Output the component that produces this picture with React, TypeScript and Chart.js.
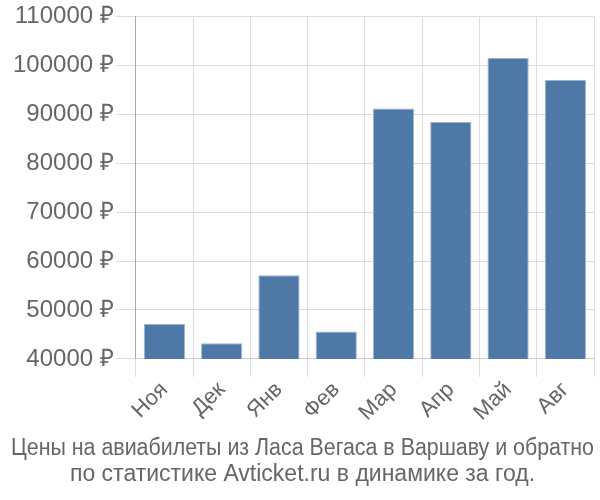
import React, { useEffect, useRef } from "react";
import { Chart, registerables } from "chart.js";

Chart.register(...registerables);

const categories = ["Ноя", "Дек", "Янв", "Фев", "Мар", "Апр", "Май", "Авг"];
const prices = [47200, 43200, 57100, 45600, 91200, 88400, 101500, 97000];
const yMin = 40000;
const yMax = 110000;
const yStep = 10000;
const titleLines = [
  "Цены на авиабилеты из Ласа Вегаса в Варшаву и обратно",
  "по статистике Avticket.ru в динамике за год.",
];

const FONT = "'Liberation Sans', Arial, sans-serif";

export default function App() {
  const ref = useRef<HTMLCanvasElement | null>(null);
  useEffect(() => {
    document.body.style.margin = "0";
    if (!ref.current) return;
    const chart = new Chart(ref.current, {
      type: "bar",
      data: {
        labels: categories,
        datasets: [
          {
            data: prices,
            backgroundColor: "#4e79a7",
            borderColor: "#9fb4cf",
            borderWidth: { top: 1, left: 1, right: 1, bottom: 0 },
          },
        ],
      },
      options: {
        animation: false,
        responsive: false,
        maintainAspectRatio: false,
        layout: { padding: { left: 11, right: 6, top: 4, bottom: 0 } },
        plugins: {
          legend: { display: false },
          tooltip: { enabled: false },
          title: {
            display: true,
            position: "bottom",
            text: titleLines,
            color: "#666",
            font: { family: FONT, size: 23, weight: "normal", lineHeight: 1.13 },
            padding: { top: 10, bottom: 12 },
          },
        },
        scales: {
          x: {
            grid: { color: "#dddddd", tickLength: 18, offset: true },
            border: { color: "#cccccc" },
            ticks: {
              color: "#666",
              font: { family: FONT, size: 22 },
              maxRotation: 45,
              minRotation: 45,
              padding: 0,
            },
          },
          y: {
            min: yMin,
            max: yMax,
            grid: { color: "#dddddd", tickLength: 20 },
            border: { color: "#aaaaaa" },
            ticks: {
              stepSize: yStep,
              color: "#666",
              font: { family: FONT, size: 24 },
              padding: 2,
              callback: (v: any) => `${v} ₽`,
            },
          },
        },
      },
    });
    return () => chart.destroy();
  }, []);
  return (
    <div style={{ width: 600, height: 500 }}>
      <canvas ref={ref} width={600} height={500} />
    </div>
  );
}
